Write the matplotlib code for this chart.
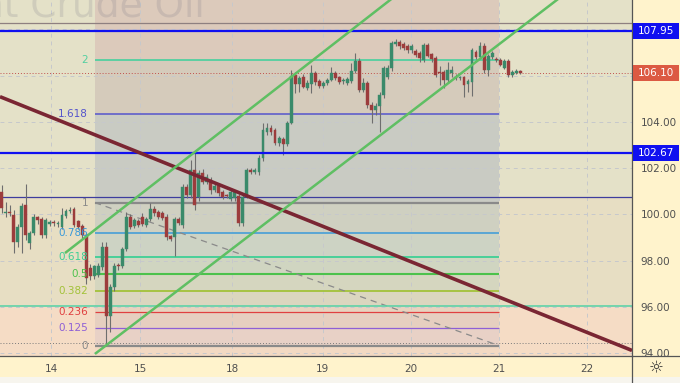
import matplotlib
matplotlib.use("Agg")
import matplotlib.pyplot as plt
from matplotlib.patches import Rectangle
from matplotlib.lines import Line2D
from matplotlib.transforms import blended_transform_factory

# ---- data (hourly candles, x = candle index) ----
opens = [100.97, 100.05, 100.1, 99.98, 98.81, 99.46, 100.41, 98.77, 99.2, 99.89,
         99.8, 99.11, 99.58, 99.65, 99.6, 99.46, 99.95, 100.15, 100.24, 99.7,
         99.5, 99.11, 97.7, 97.35, 97.4, 97.73, 98.6, 95.62, 96.85, 97.8,
         97.77, 98.5, 99.89, 99.51, 99.7, 99.9, 99.55, 99.8, 100.24, 100.12,
         100.06, 99.89, 99.05, 99.03, 99.8, 99.55, 101.2, 100.84, 101.92, 100.76,
         101.79, 101.4, 101.49, 101.06, 101.23, 100.97, 100.82, 100.67, 100.72, 100.8,
         99.63, 100.77, 101.9, 101.85, 101.84, 102.44, 103.57, 103.74, 103.65, 103.09,
         103.27, 103.05, 103.96, 106.03, 105.63, 105.92, 105.48, 105.63, 106.1, 105.77,
         105.57, 105.67, 105.81, 106.1, 105.92, 105.75, 105.7, 105.77, 106.2, 106.64,
         105.38, 105.67, 104.73, 104.52, 104.7, 105.17, 105.96, 106.32, 107.36, 107.45,
         107.36, 107.26, 107.11, 107.07, 106.97, 106.68, 107.33, 106.93, 106.75, 106.17,
         106.15, 105.81, 106.1, 105.95, 105.9, 105.92, 105.63, 105.74, 107.04, 106.82,
         107.3, 106.25, 106.82, 106.7, 106.68, 106.35, 106.64, 106.03, 106.13, 106.2]
highs = [101.27, 100.55, 100.4, 100.19, 99.6, 100.5, 101.3, 99.3, 100.0, 99.95,
         99.9, 99.85, 99.75, 99.75, 99.7, 100.28, 100.25, 100.3, 100.3, 99.75,
         99.6, 99.2, 97.85, 97.8, 97.9, 98.8, 98.8, 97.0, 97.9, 97.9,
         98.6, 100.1, 100.0, 99.85, 99.8, 100.06, 99.9, 100.5, 100.35, 100.2,
         100.15, 100.0, 99.1, 99.9, 99.9, 101.3, 101.3, 102.36, 102.66, 101.9,
         101.95, 101.75, 101.6, 101.35, 101.3, 101.05, 100.9, 101.1, 101.05, 100.9,
         100.85, 102.0, 102.0, 102.0, 102.55, 103.96, 103.96, 103.85, 103.75, 103.4,
         103.35, 104.05, 106.25, 106.15, 106.0, 106.05, 105.8, 106.46, 106.2, 105.85,
         105.75, 105.9, 106.36, 106.2, 106.0, 105.9, 105.95, 106.54, 106.97, 106.75,
         105.9, 105.75, 104.85, 104.8, 105.3, 106.4, 106.45, 107.5, 107.6, 107.55,
         107.45, 107.35, 107.35, 107.15, 107.05, 107.4, 107.4, 107.0, 106.85, 106.4,
         106.25, 106.61, 106.4, 106.05, 106.0, 106.0, 105.85, 107.2, 107.1, 107.47,
         107.4, 106.95, 107.05, 106.8, 106.75, 106.7, 106.7, 106.25, 106.3, 106.25]
lows = [100.07, 99.9, 99.95, 98.35, 98.6, 98.35, 98.9, 98.5, 99.1, 99.6,
        99.0, 99.0, 99.5, 99.5, 99.45, 99.35, 99.85, 100.05, 99.45, 99.35,
        99.0, 97.0, 97.15, 97.2, 97.3, 97.6, 94.33, 94.9, 96.7, 97.6,
        97.7, 98.4, 99.35, 99.4, 99.45, 99.5, 99.45, 99.7, 99.95, 99.8,
        99.75, 98.9, 98.85, 98.2, 99.55, 99.4, 100.7, 100.7, 100.2, 100.6,
        101.3, 101.3, 100.9, 100.95, 100.8, 100.65, 100.7, 100.6, 100.6, 99.5,
        99.5, 100.7, 101.75, 101.75, 101.7, 102.3, 103.45, 103.45, 103.0, 102.95,
        102.57, 102.95, 103.9, 105.25, 105.3, 105.45, 105.4, 105.25, 105.6, 105.45,
        105.45, 105.6, 105.75, 105.8, 105.65, 105.65, 105.6, 105.7, 106.1, 105.3,
        105.3, 104.6, 103.94, 104.3, 103.58, 105.05, 105.85, 106.2, 107.3, 107.15,
        107.1, 107.0, 107.0, 106.8, 106.6, 106.6, 106.8, 106.6, 105.95, 105.6,
        105.46, 105.7, 105.95, 105.8, 105.8, 105.09, 105.3, 105.1, 106.7, 106.7,
        106.1, 106.0, 106.7, 106.6, 106.4, 106.3, 105.95, 105.95, 106.05, 106.05]
closes = [100.28, 100.1, 100.05, 98.81, 99.46, 100.37, 99.11, 99.2, 99.89, 99.76,
          99.11, 99.75, 99.69, 99.62, 99.65, 99.98, 100.15, 100.2, 99.55, 99.46,
          99.11, 97.25, 97.35, 97.75, 97.75, 98.6, 95.62, 96.87, 97.77, 97.75,
          98.5, 99.89, 99.46, 99.76, 99.55, 99.6, 99.82, 100.24, 100.06, 99.9,
          99.85, 99.03, 98.95, 99.8, 99.65, 101.19, 100.84, 101.92, 100.41, 101.79,
          101.4, 101.62, 101.06, 101.23, 100.93, 100.76, 100.78, 100.97, 100.97, 99.63,
          100.77, 101.92, 101.85, 101.9, 102.44, 103.65, 103.74, 103.57, 103.09, 103.31,
          103.05, 103.96, 105.99, 105.63, 105.89, 105.53, 105.67, 106.1, 105.74, 105.56,
          105.67, 105.81, 106.1, 105.89, 105.74, 105.8, 105.84, 106.2, 106.64, 105.38,
          105.67, 104.73, 104.52, 104.7, 105.17, 106.32, 106.32, 107.4, 107.45, 107.26,
          107.21, 107.11, 107.26, 106.9, 106.75, 107.33, 106.87, 106.72, 106.03, 106.1,
          105.81, 106.25, 106.25, 105.9, 105.92, 105.6, 105.77, 107.11, 106.82, 107.3,
          106.25, 106.87, 106.97, 106.68, 106.46, 106.64, 106.03, 106.17, 106.2, 106.1]

day_ticks = [12.26, 34.4, 57.3, 79.9, 101.8, 123.7, 145.6]
day_labels = ['14', '15', '18', '19', '20', '21', '22']
price_ticks = [94, 96, 98, 100, 102, 104]
grid_prices = [94, 96, 98, 100, 102, 104, 106, 108]

# fibonacci retracement
fib_low, fib_high = 94.33, 100.51
fib_x = (23.2, 123.7)
fib_levels = [0, 0.125, 0.236, 0.382, 0.5, 0.618, 0.786, 1, 1.618, 2]
fib_labels = ['0', '0.125', '0.236', '0.382', '0.5', '0.618', '0.786', '1', '1.618', '2']

# drawn lines
key_levels = [107.95, 102.67]
last_price = 106.10
top_line = 108.28
navy_line = 100.77
teal_line = 96.04
dotted_low = 94.43
trend_x, trend_y = [-0.42, 156.8], [105.09, 94.12]
chan_up_x, chan_up_y = [15.75, 110.0], [98.33, 111.08]
chan_lo_x, chan_lo_y = [23.2, 145.0], [93.97, 110.19]

XMIN, XMAX = -0.42, 156.8
YMIN, YMAX = 93.88, 109.27

fig = plt.figure(figsize=(6.8, 3.83), dpi=100)
fig.patch.set_facecolor('#fff3cc')
fig.add_artist(Rectangle((0, 0), 1, 6 / 383, transform=fig.transFigure,
                         fc='#f7f5ee', ec='none', zorder=0))
ax = fig.add_axes([0, 27 / 383, 632 / 680, 356 / 383])
ax.set_facecolor('#e4e1c8')
ax.set_xlim(XMIN, XMAX)
ax.set_ylim(YMIN, YMAX)

# background zones
ax.add_patch(Rectangle((XMIN, teal_line), XMAX - XMIN, navy_line - teal_line,
                       fc='#e7dec3', ec='none', zorder=0))
ax.add_patch(Rectangle((XMIN, YMIN), XMAX - XMIN, teal_line - YMIN,
                       fc='#f5dcc5', ec='none', zorder=0))

# fib band fills
def fib_price(l):
    return fib_low + l * (fib_high - fib_low)

edges = [YMAX, fib_price(2), fib_price(1.618), fib_price(1), fib_price(0.786),
         fib_price(0.618), fib_price(0.5), fib_price(0.382), teal_line,
         fib_price(0.236), fib_price(0.125), fib_price(0), YMIN]
band_cols = ['#dccabb', '#d5cbbb', '#c9cbc3', '#cfd0c1', '#cdd3c4', '#d0d5c1',
             '#d5d6bf', '#dbd6bf', '#e8d3bf', '#e6cfc0', '#e8d1c6', '#f2d9c3']
for top, bot, c in zip(edges[:-1], edges[1:], band_cols):
    ax.add_patch(Rectangle((fib_x[0], bot), fib_x[1] - fib_x[0], top - bot,
                           fc=c, ec='none', zorder=0.5))

# grid
for p in grid_prices:
    ax.axhline(p, color='#c6c8cc', lw=0.7, ls=(0, (4, 4)), zorder=1)
for d in day_ticks:
    ax.axvline(d, color='#c6c8cc', lw=0.7, ls=(0, (4, 4)), zorder=1)

# fib level lines and labels
lvl_cols = ['#8a8a8a', '#8e5fd6', '#e04040', '#a3c23a', '#4cc24c', '#3ecf95',
            '#3a9ad9', '#8a8a8a', '#5555cc', '#52d0a0']
lvl_lw = [1.6, 0.9, 0.9, 1.3, 1.5, 1.3, 1.1, 1.6, 1.1, 1.3]
for l, lab, c, lw in zip(fib_levels, fib_labels, lvl_cols, lvl_lw):
    p = fib_price(l)
    ax.plot(fib_x, [p, p], color=c, lw=lw, zorder=2, solid_capstyle='butt')
    ax.text(21.5, p, lab, color=c, fontsize=7.5, ha='right', va='center', zorder=6)
ax.plot(fib_x, [fib_high, fib_low], color='#8a8a8a', lw=0.9, ls=(0, (5, 4)), zorder=2)

# full-width horizontal lines
ax.axhline(top_line, color='#8e8080', lw=0.9, zorder=2)
ax.axhline(navy_line, color='#3d3d9e', lw=0.9, zorder=2)
ax.axhline(teal_line, color='#5fd2a8', lw=1.2, zorder=2)
ax.axhline(dotted_low, color='#7a7a7a', lw=0.7, ls=(0, (1, 2)), zorder=2)
ax.axhline(last_price, color='#c0504d', lw=0.7, ls=(0, (1, 2)), zorder=2)

# candles
for i, (o, h, l, c) in enumerate(zip(opens, highs, lows, closes)):
    col = '#3a8a6a' if c >= o else '#9c3c3c'
    ax.vlines(i, l, h, color='#6e6e6e', lw=0.8, zorder=3)
    ax.add_patch(Rectangle((i - 0.36, min(o, c)), 0.72, max(abs(c - o), 0.05),
                           fc=col, ec=col, lw=0.3, zorder=3.5))

for p in key_levels:
    ax.axhline(p, color='#1010f0', lw=1.6, zorder=4)

ax.plot(trend_x, trend_y, color='#7a2633', lw=2.6, zorder=5, solid_capstyle='butt')
ax.plot(chan_up_x, chan_up_y, color='#5fbf63', lw=1.8, zorder=5, solid_capstyle='butt')
ax.plot(chan_lo_x, chan_lo_y, color='#5fbf63', lw=1.8, zorder=5, solid_capstyle='butt')

# watermark (partly off the top edge, as in the source screenshot)
ax.text(205 / 632, 1 - 17 / 356, 'Light Crude Oil', transform=ax.transAxes,
        fontsize=27, color='#707080', alpha=0.18, ha='right', va='baseline', zorder=1)

# axes styling
for s in ['top', 'left']:
    ax.spines[s].set_visible(False)
for s in ['right', 'bottom']:
    ax.spines[s].set_color('#555555')
    ax.spines[s].set_linewidth(0.9)
ax.yaxis.tick_right()
ax.set_yticks(price_ticks)
ax.set_yticklabels([f'{p:.2f}' for p in price_ticks])
ax.set_xticks(day_ticks)
ax.set_xticklabels(day_labels)
ax.tick_params(axis='y', length=0, pad=6, labelsize=7.5, labelcolor='#505050')
ax.tick_params(axis='x', length=0, pad=6, labelsize=7.5, labelcolor='#505050')

# price tags on the axis
tr = blended_transform_factory(ax.transAxes, ax.transData)
tag_h = 16 / 23.13
for p, fc in [(key_levels[0], '#1010f0'), (last_price, '#dc5a43'), (key_levels[1], '#1010f0')]:
    ax.add_patch(Rectangle((1.0016, p - tag_h / 2), 0.0728, tag_h, transform=tr,
                           fc=fc, ec='none', clip_on=False, zorder=7))
    ax.text(1.038, p, f'{p:.2f}', transform=tr, color='white', fontsize=7.5,
            ha='center', va='center', clip_on=False, zorder=8)

# frame lines extending into the axis margins
fig.add_artist(Line2D([632 / 680, 1], [27 / 383, 27 / 383], color='#555555', lw=0.9))
fig.add_artist(Line2D([632 / 680, 632 / 680], [0, 27 / 383], color='#555555', lw=0.9))
fig.text(656 / 680, 15 / 383, '\u263c', fontsize=12, color='#333333',
         ha='center', va='center')

fig.savefig('out.png', dpi=100, facecolor=fig.get_facecolor())
